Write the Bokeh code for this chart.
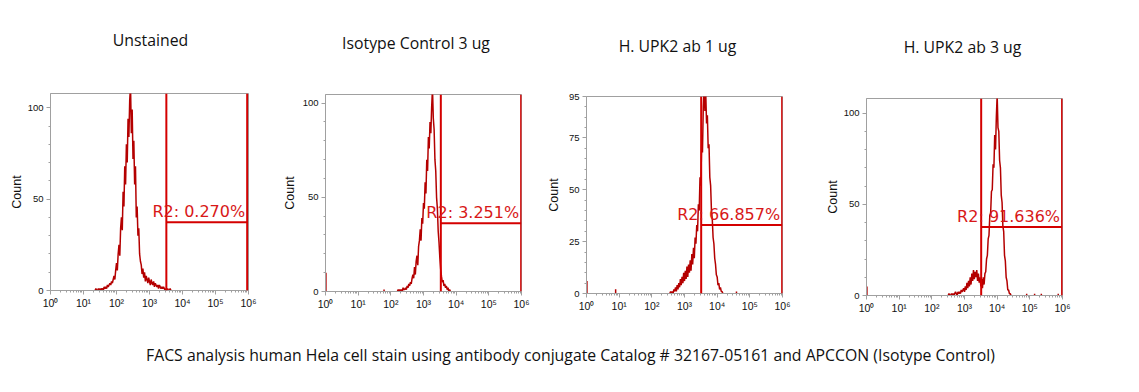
from bokeh.plotting import figure
from bokeh.models import FixedTicker, CustomJSTickFormatter, Span, Label, Range1d, Spacer
from bokeh.layouts import row, column
from bokeh.embed import file_html
from bokeh.resources import INLINE
from bokeh.core.properties import value

# ---------------- data ----------------
titles = ["Unstained", "Isotype Control 3 ug", "H. UPK2 ab 1 ug", "H. UPK2 ab 3 ug"]
caption = ("FACS analysis human Hela cell stain using antibody conjugate "
           "Catalog # 32167-05161 and APCCON (Isotype Control)")
gate_labels = ["R2: 0.270%", "R2: 3.251%", "R2: 66.857%", "R2: 91.636%"]
gate_lo = [3240, 3390, 3240, 3240]
gate_hi = [912000, 975000, 975000, 970000]
gate_y = [37.3, 36.3, 33.0, 37.5]
y_max = [107.8, 104.6, 95.0, 108.0]
y_major = [[0, 50, 100], [0, 50, 100], [0, 25, 50, 75, 95], [0, 50, 100]]
x_decades = [1, 10, 100, 1000, 10000, 100000, 1000000]

# histogram channels: log10 start of first channel, channel width in decades
bin_step = 0.025
p1_start = 1.35
p1_counts = [0, 1, 0, 0, 1, 0, 1, 0, 1, 1, 0, 2, 1, 2, 1, 3, 2, 3, 4, 3,
             5, 4, 6, 8, 6, 11, 15, 11, 20, 25, 19, 34, 40, 33, 54, 46, 68, 58, 80, 70,
             94, 84, 104, 112, 86, 99, 72, 82, 58, 68, 40, 46, 30, 34, 20, 16, 14, 9, 12, 7,
             10, 5, 8, 6, 4, 7, 5, 3, 6, 4, 3, 5, 2, 4, 3, 2, 3, 1, 3, 2,
             1, 2, 1, 2, 1, 0, 1, 0, 1, 0, 0, 1, 0]
p2_start = 2.20
p2_counts = [0, 1, 0, 1, 0, 1, 0, 2, 1, 1, 2, 1, 3, 2, 4, 3, 5, 4, 7, 9,
             7, 13, 9, 16, 19, 14, 24, 27, 33, 27, 39, 36, 47, 44, 58, 52, 70, 64, 82, 76,
             90, 84, 98, 108, 92, 86, 70, 64, 50, 44, 32, 26, 18, 12, 8, 5, 6, 3, 4, 2,
             3, 1, 2, 0, 1, 0]
p3_start = 2.55
p3_counts = [0, 1, 0, 1, 0, 2, 1, 3, 1, 4, 2, 5, 3, 7, 4, 8, 5, 10, 6, 11,
             7, 13, 8, 14, 10, 16, 11, 19, 14, 22, 17, 27, 24, 33, 30, 43, 40, 56, 52, 72,
             68, 90, 99, 88, 97, 82, 86, 70, 72, 56, 52, 40, 36, 27, 24, 17, 14, 9, 8, 4,
             5, 2, 3, 1, 1, 0]
p4_start = 2.50
p4_counts = [0, 1, 0, 0, 1, 0, 1, 0, 1, 2, 1, 0, 2, 1, 2, 1, 3, 2, 3, 4,
             2, 5, 3, 7, 4, 8, 5, 10, 6, 12, 8, 14, 9, 13, 10, 14, 8, 12, 7, 10,
             5, 9, 4, 10, 6, 12, 13, 20, 22, 31, 33, 44, 45, 57, 58, 72, 70, 88, 80, 98,
             110, 92, 90, 74, 70, 55, 51, 38, 35, 22, 19, 10, 8, 3, 3, 1, 1, 0]

# isolated events outside the main peak (intensity, count)
p1_events_x, p1_events_n = [], []
p2_events_x, p2_events_n = [1.03, 62], [10, 1]
p3_events_x, p3_events_n = [1.03, 7.8, 39000], [6, 2, 1]
p4_events_x, p4_events_n = [1.03, 80000, 140000, 225000, 740000], [5, 1, 1, 1, 1]

starts = [p1_start, p2_start, p3_start, p4_start]
counts = [p1_counts, p2_counts, p3_counts, p4_counts]
events_x = [p1_events_x, p2_events_x, p3_events_x, p4_events_x]
events_n = [p1_events_n, p2_events_n, p3_events_n, p4_events_n]

# ---------------- layout (pixels) ----------------
TOTAL_W = 1139
TITLE_H = 68
FIG_H = 257
BORDER_TOP = 25
BORDER_BOTTOM = 35
CAP_H = 55
drop = [0, 1, 3, 5]          # vertical shift of each panel
geom = [  # border_left, frame_w, border_right
    (50, 198, 27),
    (50, 196, 17),
    (48, 196, 36),
    (48, 196, 77),
]
title_x = [150, 415.5, 677, 962]
title_y = [39, 42, 45, 46]
cap_x, cap_y = 570, 24
ylabel_standoff = [1, 3, 5, 1]

HIST_COLOR = "#b40000"
GATE_COLOR = "#d40000"
TEXT_COLOR = "#d81818"
AXIS_COLOR = "#a0a0a0"

fmt = CustomJSTickFormatter(code="""
const s = ['\u2070','\u00b9','\u00b2','\u00b3','\u2074','\u2075','\u2076'];
return '10' + s[Math.round(Math.log10(tick))];
""")
x_minor = [k * d for d in x_decades[:-1] for k in range(2, 10)]


def blank(width, height):
    f = figure(width=width, height=height, x_range=Range1d(0, width),
               y_range=Range1d(height, 0),
               output_backend="svg", toolbar_location=None,
               min_border_left=0, min_border_right=0, min_border_top=0, min_border_bottom=0)
    f.axis.visible = False
    f.grid.visible = False
    f.outline_line_color = None
    return f


top = blank(TOTAL_W, TITLE_H)
top.text(x=title_x, y=title_y, text=titles, text_align="center", text_baseline="middle",
         text_font=value("Open Sans"), text_font_size="15.8px", text_color="#111111")

cells = []
for i in range(4):
    bl, fw, br = geom[i]
    W = bl + fw + br
    p = figure(width=W, height=FIG_H,
               min_border_left=bl, min_border_right=br,
               min_border_top=BORDER_TOP, min_border_bottom=BORDER_BOTTOM,
               x_axis_type="log", x_range=Range1d(1, 1e6), y_range=Range1d(0, y_max[i]),
               output_backend="svg", toolbar_location=None)
    p.grid.visible = False
    p.outline_line_color = AXIS_COLOR

    p.xaxis.ticker = FixedTicker(ticks=x_decades, minor_ticks=x_minor)
    p.xaxis.formatter = fmt
    step = 5 if i == 2 else 10
    yminor = [v for v in range(step, int(y_max[i]) + 1, step) if v not in y_major[i]]
    p.yaxis.ticker = FixedTicker(ticks=y_major[i], minor_ticks=yminor)
    p.yaxis.axis_label = "Count"
    p.yaxis.axis_label_text_font = "Liberation Sans"
    p.yaxis.axis_label_text_font_size = "12.5px"
    p.yaxis.axis_label_text_font_style = "normal"
    p.yaxis.axis_label_text_color = "#111111"
    p.yaxis.axis_label_standoff = ylabel_standoff[i]

    for ax in (p.xaxis, p.yaxis):
        ax.axis_line_color = AXIS_COLOR
        ax.major_tick_line_color = AXIS_COLOR
        ax.minor_tick_line_color = AXIS_COLOR
        ax.major_tick_out = 4
        ax.major_tick_in = 0
        ax.minor_tick_out = 2
        ax.minor_tick_in = 0
        ax.major_label_text_font = "Liberation Sans"
        ax.major_label_text_color = "#111111"
    p.xaxis.major_label_text_font_size = "10.5px"
    p.yaxis.major_label_text_font_size = "9.5px"
    p.xaxis.major_label_standoff = 2
    p.yaxis.major_label_standoff = 3

    xs = [10 ** (starts[i] + bin_step * k) for k in range(len(counts[i]))]
    p.line(xs, counts[i], line_color=HIST_COLOR, line_width=1.5)
    if events_x[i]:
        p.segment(x0=events_x[i], y0=[0] * len(events_x[i]), x1=events_x[i], y1=events_n[i],
                  line_color=HIST_COLOR, line_width=1.5)

    p.add_layout(Span(location=gate_lo[i], dimension="height", line_color=GATE_COLOR, line_width=2))
    p.add_layout(Span(location=gate_hi[i], dimension="height", line_color=GATE_COLOR, line_width=2))
    p.segment(x0=[gate_lo[i]], y0=[gate_y[i]], x1=[gate_hi[i]], y1=[gate_y[i]],
              line_color=GATE_COLOR, line_width=2)
    p.add_layout(Label(x=gate_hi[i], y=gate_y[i], text=gate_labels[i],
                       text_align="right", text_baseline="alphabetic",
                       x_offset=-2, y_offset=11, text_color=TEXT_COLOR,
                       text_font="DejaVu Sans", text_font_size="16px"))
    if drop[i] > 0:
        cells.append(column(Spacer(width=W, height=drop[i]), p, spacing=0))
    else:
        cells.append(p)

cap = blank(TOTAL_W, CAP_H)
cap.text(x=[cap_x], y=[cap_y], text=[caption], text_align="center", text_baseline="middle",
         text_font=value("Open Sans"), text_font_size="15.8px", text_color="#111111")

layout = column(top, row(*cells, spacing=0), cap, spacing=0)
open("out.html", "w").write(file_html(layout, INLINE))
